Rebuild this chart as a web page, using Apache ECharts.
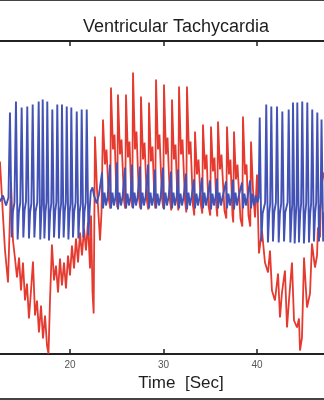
<!DOCTYPE html>
<html><head><meta charset="utf-8">
<script src="https://cdn.jsdelivr.net/npm/echarts@6/dist/echarts.min.js"></script>
<style>
html,body{margin:0;padding:0;background:#fff;}
#wrap{position:relative;width:324px;height:400px;overflow:hidden;}
#c{width:324px;height:400px;}
.edge{position:absolute;left:0;width:324px;background:#444;}
</style></head>
<body>
<div id="wrap"><div id="c"></div><div class="edge" style="top:0;height:1px"></div><div class="edge" style="top:398px;height:2px"></div></div>
<script>
// Red trace (time in s, amplitude)
const redTime = [
12.51,12.83,13.05,13.37,13.69,13.90,14.12,14.33,14.55,14.76,14.97,15.19,15.40,15.61,15.83,16.04,16.26,16.47,16.68,16.90,
17.11,17.33,17.54,17.70,17.86,18.07,18.29,18.50,18.72,18.93,19.14,19.36,19.57,19.79,20.00,20.21,20.43,20.64,20.86,21.07,
21.28,21.50,21.71,21.92,22.14,22.25,22.41,22.53,
22.67,22.89,23.21,23.37,
23.53,23.74,23.90,24.17,24.31,
24.38,24.60,24.76,24.97,25.06,
25.13,25.35,25.51,25.78,25.91,
25.99,26.20,26.36,26.58,26.66,
26.74,26.95,27.11,27.38,27.52,
27.59,27.81,27.97,28.23,28.37,
28.45,28.66,28.82,29.04,29.12,
29.20,29.41,29.57,29.84,29.98,
30.05,30.27,30.43,30.69,30.83,
30.91,31.12,31.28,31.50,31.58,
31.66,31.87,32.03,32.30,32.44,
32.51,32.73,32.89,33.15,33.29,
33.37,33.58,33.74,34.01,34.15,
34.22,34.44,34.60,34.81,35.00,
35.08,35.29,35.45,35.67,35.75,
35.83,36.04,36.20,36.52,36.72,
36.79,37.00,37.16,37.38,37.46,
37.54,37.75,37.91,38.23,38.43,
38.50,38.72,38.88,39.09,39.28,
39.36,39.57,39.79,40.00,40.21,
40.53,40.85,41.18,41.39,41.60,41.92,42.25,42.46,42.67,42.99,43.21,43.42,43.74,43.96,44.28,44.49,44.60,44.81,
45.03,45.35,45.67,45.88,46.20,46.42,46.52,46.74,46.85,47.17
];
const redValue = [
0.36,-0.18,-0.53,-0.85,0.15,-0.43,-0.61,-0.80,-0.60,-0.93,-0.65,-1.03,-0.86,-1.21,-0.93,-0.64,-1.18,-1.03,-1.35,-1.08,
-1.41,-1.18,-1.48,-1.56,-1.03,-0.47,-0.83,-0.68,-0.95,-0.61,-0.88,-0.65,-0.91,-0.58,-0.78,-0.48,-0.71,-0.41,-0.65,-0.35,
-0.58,-0.31,-0.53,-0.25,-0.71,-0.18,-0.95,-1.16,
0.61,0.08,-0.43,-0.15,
0.78,0.33,0.48,-0.03,-0.11,
1.10,0.48,0.63,0.03,-0.10,
1.03,0.43,0.58,-0.03,-0.11,
1.03,0.40,0.56,-0.01,-0.10,
1.25,0.48,0.66,-0.01,-0.11,
1.01,0.38,0.55,-0.03,-0.12,
0.95,0.36,0.51,-0.03,-0.11,
1.18,0.48,0.63,-0.01,-0.11,
1.13,0.43,0.60,-0.03,-0.13,
0.98,0.38,0.53,-0.03,-0.13,
1.11,0.43,0.58,-0.03,-0.15,
1.11,0.43,0.56,-0.08,-0.18,
0.66,0.23,0.38,-0.08,-0.16,
0.73,0.28,0.43,-0.08,-0.18,
0.71,0.26,0.40,-0.11,-0.19,
0.76,0.28,0.43,-0.13,-0.21,
0.71,0.23,0.38,-0.18,-0.25,
0.66,0.18,0.33,-0.21,-0.29,
0.81,0.23,0.33,-0.18,-0.29,
0.56,0.08,-0.20,0.23,-0.56,
-0.33,-0.65,-0.75,-0.53,-0.93,-1.03,-0.76,-1.20,-0.95,-0.73,-1.30,-1.03,-0.65,-1.23,-1.30,-1.21,-1.53,-1.40,
-0.60,-1.10,-0.96,-0.46,-0.70,-0.58,-0.30,-0.40,0.11,0.25
];
// Blue trace (time in s, amplitude)
const blueTime = [
12.51,12.83,13.16,13.42,
13.58,13.77,13.90,14.06, 14.22,14.40,14.53,14.68, 14.83,15.01,15.14,15.29, 15.43,15.61,15.73,15.87,
16.01,16.19,16.32,16.50, 16.65,16.82,16.93,17.00, 17.08,17.26,17.38,17.48, 17.57,17.75,17.88,18.00,
18.11,18.29,18.42,18.54, 18.64,18.82,18.94,19.05, 19.14,19.32,19.44,19.55, 19.65,19.83,19.95,20.05,
20.14,20.32,20.45,20.60, 20.72,20.90,21.02,21.15, 21.25,21.43,21.55,21.68, 21.79,21.97,22.10,
22.22,22.41,22.57,22.85,23.10,
23.43,23.53,23.69,23.85,24.03, 24.28,24.38,24.54,24.70,24.88, 25.03,25.13,25.29,25.45,25.63,
25.89,25.99,26.15,26.31,26.49, 26.64,26.74,26.90,27.06,27.24, 27.49,27.59,27.75,27.91,28.09,
28.35,28.45,28.61,28.77,28.95, 29.10,29.20,29.36,29.52,29.70, 29.95,30.05,30.21,30.37,30.55,
30.81,30.91,31.07,31.23,31.41, 31.56,31.66,31.82,31.98,32.16, 32.41,32.51,32.67,32.83,33.01,
33.27,33.37,33.53,33.69,33.87, 34.12,34.22,34.38,34.54,34.72, 34.98,35.08,35.24,35.40,35.58,
35.73,35.83,35.99,36.15,36.33, 36.69,36.79,36.95,37.11,37.29, 37.44,37.54,37.70,37.86,38.04,
38.40,38.50,38.66,38.82,39.00, 39.26,39.36,39.52,39.68,39.86,
40.05,40.18,
40.29,40.47,40.60,40.87, 40.99,41.17,41.30,41.41, 41.53,41.71,41.84,42.02, 42.14,42.32,42.45,42.59,
42.71,42.89,43.02,43.27, 43.39,43.57,43.70,43.77, 43.85,44.03,44.16,44.23, 44.31,44.49,44.62,44.72,
44.84,45.02,45.15,45.26, 45.38,45.56,45.69,45.79, 45.91,46.09,46.22,46.33, 46.45,46.63,46.72,46.81,
46.90,47.08,47.21
];
const blueValue = [
-0.04,0.02,-0.08,0.00,
0.85,-0.40,-0.14,-0.05, 0.96,-0.42,-0.15,-0.05, 0.90,-0.40,-0.13,-0.04, 0.91,-0.41,-0.15,-0.06,
0.93,-0.40,-0.14,-0.05, 0.96,-0.42,-0.16,-0.07, 0.98,-0.41,-0.14,-0.05, 0.96,-0.43,-0.15,-0.06,
0.88,-0.40,-0.14,-0.05, 0.93,-0.41,-0.15,-0.06, 0.93,-0.40,-0.14,-0.05, 0.91,-0.42,-0.15,-0.06,
0.90,-0.40,-0.14,-0.05, 0.86,-0.41,-0.15,-0.06, 0.88,-0.40,-0.14,-0.05, 0.88,-0.38,-0.12,
0.06,0.10,0.02,-0.06,0.03,
0.25,-0.11,0.05,-0.08,0.01, 0.33,-0.11,0.05,-0.08,0.01, 0.35,-0.12,0.05,-0.08,0.01,
0.30,-0.11,0.04,-0.08,0.01, 0.33,-0.11,0.05,-0.08,0.01, 0.31,-0.12,0.05,-0.08,0.01,
0.33,-0.11,0.05,-0.08,0.01, 0.28,-0.11,0.04,-0.08,0.01, 0.30,-0.12,0.05,-0.08,0.01,
0.26,-0.11,0.05,-0.08,0.01, 0.28,-0.11,0.04,-0.08,0.01, 0.24,-0.12,0.05,-0.08,0.01,
0.18,-0.11,0.04,-0.08,0.01, 0.20,-0.11,0.05,-0.08,0.01, 0.17,-0.12,0.04,-0.08,0.01,
0.19,-0.11,0.05,-0.08,0.01, 0.16,-0.11,0.04,-0.08,0.01, 0.18,-0.12,0.05,-0.08,0.01,
0.15,-0.11,0.04,-0.08,0.01, 0.17,-0.11,0.04,-0.08,0.02,
-0.05,0.00,
0.80,-0.44,-0.16,-0.05, 0.93,-0.45,-0.16,-0.06, 0.91,-0.44,-0.15,-0.05, 0.91,-0.45,-0.16,-0.06,
0.86,-0.44,-0.15,-0.05, 0.88,-0.45,-0.16,-0.07, 0.95,-0.46,-0.17,-0.07, 0.95,-0.45,-0.16,-0.06,
0.96,-0.46,-0.17,-0.06, 0.95,-0.45,-0.16,-0.06, 0.88,-0.44,-0.15,-0.05, 0.85,-0.44,-0.15,-0.06,
0.78,-0.44,-0.15
];
const xTickStep = 10;
const chartTitle = 'Ventricular Tachycardia';
const xName = 'Time  [Sec]';

const font = "'Liberation Sans', Arial, sans-serif";
const redData = redTime.map((t, i) => [t, redValue[i]]);
const blueData = blueTime.map((t, i) => [t, blueValue[i]]);

const chart = echarts.init(document.getElementById('c'), null, {renderer: 'canvas'});
const axisBase = {
  type: 'value', min: 10, max: 50, interval: xTickStep,
  axisLine: {onZero: false, lineStyle: {color: '#222', width: 2}},
  axisTick: {inside: true, length: 5, lineStyle: {color: '#222', width: 1.5}},
  splitLine: {show: false}
};
chart.setOption({
  animation: false,
  backgroundColor: '#fff',
  title: {
    text: chartTitle, left: 83, top: 18, padding: 0,
    textStyle: {fontSize: 18, fontWeight: 'normal', color: '#1e1e1e', fontFamily: font}
  },
  grid: {left: -23.5, right: -26.5, top: 41, bottom: 46, containLabel: false, outerBoundsMode: 'none'},
  xAxis: [
    Object.assign({}, axisBase, {
      position: 'bottom', name: xName, nameLocation: 'middle', nameGap: 17,
      nameTextStyle: {fontSize: 17, color: '#1e1e1e', fontFamily: font, padding: [0, 0, 0, 35]},
      axisLabel: {fontSize: 10, color: '#555', margin: 6, fontFamily: font, showMinLabel: false, showMaxLabel: false}
    }),
    Object.assign({}, axisBase, {position: 'top', axisLabel: {show: false}})
  ],
  yAxis: {type: 'value', min: -1.565, max: 1.565, show: false},
  series: [
    {type: 'line', data: redData, showSymbol: false, xAxisIndex: 0,
     lineStyle: {color: '#e53a2f', width: 1.8}, itemStyle: {color: '#e53a2f'}},
    {type: 'line', data: blueData, showSymbol: false, xAxisIndex: 0,
     lineStyle: {color: '#4352b5', width: 1.9}, itemStyle: {color: '#4352b5'}}
  ]
});
</script>
</body></html>
